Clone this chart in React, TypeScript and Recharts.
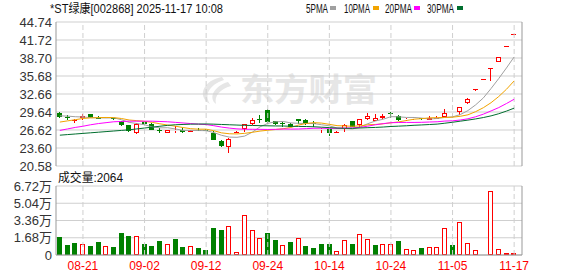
import React from 'react';
import { ComposedChart, Bar, Line, XAxis, YAxis, CartesianGrid, ReferenceLine } from 'recharts';

const dates = [
  '08-18', '08-19', '08-20', '08-21', '08-22', '08-25', '08-26', '08-27', '08-28', '08-29',
  '09-01', '09-02', '09-03', '09-04', '09-05', '09-08', '09-09', '09-10', '09-11', '09-12',
  '09-15', '09-16', '09-17', '09-18', '09-19', '09-22', '09-23', '09-24', '09-25', '09-26',
  '09-29', '09-30', '10-09', '10-10', '10-13', '10-14', '10-15', '10-16', '10-17', '10-20',
  '10-21', '10-22', '10-23', '10-24', '10-27', '10-28', '10-29', '10-30', '10-31', '11-03',
  '11-04', '11-05', '11-06', '11-07', '11-10', '11-11', '11-12', '11-13', '11-14', '11-17',
];

const opens = [
  29.5, 28.8, 28.25, 28.6, 29.25, 28.65, 28.45, 28.55, 28.1, 27.4,
  26.2, 27.95, 27.6, 26.7, 26.2, 26.5, 26.6, 26.3, 26.7, 26.6,
  26.2, 24.7, 23.85, 26.3, 26.85, 27.65, 28.5, 30.0, 28.05, 27.85,
  27.7, 28.4, 28.25, 27.75, 26.7, 26.75, 26.25, 26.8, 28.05, 27.4,
  28.4, 28.2, 28.65, 29.4, 28.95, 28.3, 28.5, 28.55, 28.3, 28.55,
  28.85, 28.8, 29.6, 31.2, 33.5, 35.18, 36.94, 38.1, 40.73, 42.77,
];
const highs = [
  29.7, 29.2, 28.4, 29.3, 29.3, 29.0, 28.65, 28.65, 28.2, 27.5,
  27.8, 28.05, 27.75, 27.0, 26.7, 27.3, 26.9, 26.65, 26.95, 26.75,
  26.5, 24.95, 25.2, 26.4, 27.7, 28.6, 29.2, 30.1, 28.2, 28.15,
  27.75, 28.45, 28.4, 28.2, 26.95, 26.8, 26.45, 27.7, 28.1, 28.45,
  29.4, 29.3, 29.3, 29.7, 29.2, 28.6, 28.75, 28.6, 28.9, 28.9,
  30.1, 29.15, 30.45, 31.95, 33.5, 35.18, 36.94, 38.79, 40.73, 42.77,
];
const lows = [
  28.6, 28.3, 27.75, 28.3, 28.6, 28.5, 28.4, 28.35, 27.3, 26.3,
  26.0, 27.5, 26.6, 26.1, 26.1, 26.05, 26.2, 26.25, 26.4, 26.45,
  24.95, 23.8, 22.8, 26.3, 26.35, 27.4, 27.8, 27.8, 27.4, 27.1,
  27.05, 27.6, 27.5, 27.2, 26.1, 25.6, 26.2, 26.35, 27.15, 27.2,
  28.35, 28.1, 28.5, 28.7, 28.2, 28.2, 28.35, 28.3, 28.25, 28.5,
  28.8, 28.7, 29.1, 30.95, 33.2, 35.18, 34.9, 38.0, 40.73, 42.77,
];
const closes = [
  28.75, 28.7, 28.35, 29.0, 28.7, 28.55, 28.6, 28.45, 27.4, 26.5,
  27.6, 27.55, 26.65, 26.6, 26.62, 26.6, 26.3, 26.6, 26.55, 26.5,
  25.0, 24.0, 25.1, 26.36, 27.55, 28.3, 28.45, 28.0, 27.7, 27.8,
  27.1, 28.1, 27.85, 27.65, 26.8, 26.2, 26.3, 27.5, 27.2, 28.4,
  29.0, 28.6, 28.95, 29.35, 28.25, 28.5, 28.55, 28.45, 28.55, 28.7,
  29.4, 29.0, 30.4, 31.9, 33.5, 35.18, 36.94, 38.79, 40.73, 42.77,
];
// volume in 万
const volumes = [
  1.75, 0.97, 1.17, 1.04, 0.88, 1.27, 0.84, 0.78, 2.14, 1.85,
  1.82, 1.07, 0.88, 1.36, 1.04, 1.56, 0.78, 0.84, 0.68, 0.49,
  2.63, 2.43, 2.79, 0.26, 3.86, 2.4, 1.62, 2.14, 1.46, 0.94,
  1.27, 1.66, 0.88, 0.68, 1.07, 1.07, 0.36, 1.46, 1.07, 2.04,
  1.56, 0.97, 1.07, 1.07, 1.36, 0.58, 0.49, 0.68, 0.78, 0.78,
  2.63, 0.97, 3.21, 1.17, 0.49, 0.1, 6.23, 0.58, 0.2, 0.2,
];
const ma5 = [
  29.0, 28.95, 28.85, 28.8, 28.7, 28.66, 28.64, 28.66, 28.34, 27.9,
  27.71, 27.5, 27.14, 26.98, 27.0, 26.8, 26.55, 26.54, 26.53, 26.51,
  26.19, 25.73, 25.43, 25.39, 25.6, 26.26, 27.15, 27.73, 28.0, 28.05,
  27.81, 27.74, 27.71, 27.7, 27.5, 27.32, 26.96, 26.89, 26.8, 27.12,
  27.68, 28.14, 28.43, 28.86, 28.83, 28.73, 28.72, 28.62, 28.46, 28.55,
  28.73, 28.82, 29.21, 29.88, 30.84, 32.0, 33.58, 35.26, 37.03, 38.88,
];
const ma10 = [
  27.95, 28.15, 28.35, 28.55, 28.65, 28.7, 28.72, 28.7, 28.55, 28.3,
  28.19, 28.07, 27.9, 27.66, 27.45, 27.26, 27.03, 26.84, 26.76, 26.76,
  26.5, 26.14, 25.99, 25.96, 26.06, 26.23, 26.44, 26.58, 26.7, 26.83,
  27.04, 27.45, 27.72, 27.85, 27.78, 27.57, 27.35, 27.3, 27.25, 27.31,
  27.5, 27.55, 27.66, 27.83, 27.98, 28.21, 28.43, 28.53, 28.66, 28.69,
  28.73, 28.77, 28.92, 29.17, 29.7, 30.36, 31.2, 32.24, 33.45, 34.86,
];
const ma20 = [
  26.55, 26.8, 27.05, 27.25, 27.5, 27.7, 27.85, 28.0, 28.05, 28.1,
  28.1, 28.1, 28.1, 28.05, 28.0, 27.9, 27.8, 27.7, 27.6, 27.53,
  27.34, 27.11, 26.94, 26.81, 26.75, 26.74, 26.73, 26.71, 26.73, 26.79,
  26.77, 26.79, 26.85, 26.91, 26.92, 26.9, 26.9, 26.94, 26.97, 27.07,
  27.27, 27.5, 27.69, 27.84, 27.88, 27.89, 27.89, 27.91, 27.96, 28.0,
  28.12, 28.16, 28.29, 28.5, 28.84, 29.28, 29.82, 30.38, 31.06, 31.78,
];
const ma30 = [
  25.75, 25.85, 25.95, 26.05, 26.15, 26.25, 26.35, 26.45, 26.55, 26.65,
  26.8, 26.95, 27.1, 27.25, 27.4, 27.5, 27.55, 27.6, 27.62, 27.63,
  27.6, 27.55, 27.5, 27.45, 27.4, 27.38, 27.35, 27.32, 27.3, 27.29,
  27.24, 27.22, 27.2, 27.16, 27.09, 27.02, 26.94, 26.91, 26.9, 26.96,
  27.01, 27.05, 27.12, 27.21, 27.27, 27.33, 27.41, 27.47, 27.54, 27.61,
  27.76, 27.92, 28.1, 28.28, 28.48, 28.71, 28.99, 29.35, 29.79, 30.29,
];

const dateTicks = ['08-21', '09-02', '09-12', '09-24', '10-14', '10-24', '11-05', '11-17'];
const priceTicks = [20.58, 23.6, 26.62, 29.64, 32.66, 35.68, 38.7, 41.72, 44.74];
const volTicks = [0, 1.68, 3.36, 5.04, 6.72];

const PRICE_MIN = 20.58;
const PRICE_MAX = 44.74;
const RED = '#ff0000';
const GREEN = '#008000';
const GRID = '#cfcfcf';
const FRAME = '#999999';

const rows = dates.map((date, i) => ({
  date,
  open: opens[i],
  high: highs[i],
  low: lows[i],
  close: closes[i],
  vol: volumes[i],
  ma5: ma5[i],
  ma10: ma10[i],
  ma20: ma20[i],
  ma30: ma30[i],
  // volume colour follows the day's change
  up: i === 0 ? closes[i] >= opens[i] : closes[i] >= closes[i - 1],
}));

function Candle(props: any) {
  const { x, y, width, height, payload } = props;
  if (!payload || x == null) return null;
  const top = Math.min(y, y + height);
  const unit = Math.abs(height) / (payload.high - PRICE_MIN);
  const py = (v: number) => top + (payload.high - v) * unit;
  const left = Math.round(x);
  const cx = left + Math.floor(width / 2) + 0.5;
  const rising = payload.close >= payload.open;
  const color = rising ? RED : GREEN;
  const yHigh = Math.round(py(payload.high));
  const yLow = Math.round(py(payload.low));
  const bt = Math.round(Math.min(py(payload.open), py(payload.close)));
  const bb = Math.round(Math.max(py(payload.open), py(payload.close)));

  if (bb - bt < 1) {
    return (
      <g>
        {yLow > yHigh && <line x1={cx} x2={cx} y1={yHigh} y2={yLow} stroke={color} />}
        <line x1={left} x2={left + width} y1={bt + 0.5} y2={bt + 0.5} stroke={color} />
      </g>
    );
  }
  if (rising) {
    return (
      <g>
        <line x1={cx} x2={cx} y1={yHigh} y2={bt} stroke={RED} />
        <line x1={cx} x2={cx} y1={bb} y2={yLow} stroke={RED} />
        <rect x={left + 0.5} y={bt + 0.5} width={width - 1} height={Math.max(0, bb - bt - 1)} fill="#fff" stroke={RED} />
      </g>
    );
  }
  return (
    <g>
      <line x1={cx} x2={cx} y1={yHigh} y2={yLow} stroke={GREEN} />
      <rect x={left} y={bt} width={width} height={bb - bt} fill={GREEN} />
    </g>
  );
}

function VolBar(props: any) {
  const { x, y, width, height, payload } = props;
  if (!payload || x == null) return null;
  const top = Math.round(Math.min(y, y + height));
  const bottom = Math.round(Math.max(y, y + height));
  const left = Math.round(x);
  if (payload.up) {
    return (
      <rect x={left + 0.5} y={top + 0.5} width={width - 1} height={Math.max(0, bottom - top - 1)} fill="#fff" stroke={RED} />
    );
  }
  return <rect x={left} y={top} width={width} height={bottom - top} fill={GREEN} />;
}

const legend = [
  { label: '5PMA', color: '#a0a0a0', x: 306, w: 22, sx: 330 },
  { label: '10PMA', color: '#f2a400', x: 344, w: 26, sx: 373 },
  { label: '20PMA', color: '#ff00ff', x: 385, w: 27, sx: 414 },
  { label: '30PMA', color: '#006e2e', x: 427, w: 27, sx: 457 },
];

const font = '"Liberation Sans", Arial, "Noto Sans CJK SC", sans-serif';

export default function App() {
  return (
    <div style={{ position: 'relative', width: 578, height: 276, background: '#fff', fontFamily: font }}>
      <style>{'body{margin:0}'}</style>

      {/* watermark + titles */}
      <svg width={578} height={276} style={{ position: 'absolute', left: 0, top: 0 }}>
        <path d="M222 77 C204 80 196 96 210 104 C204 95 209 85 224 80 Z" fill="#e6e6e6" />
        <path d="M228 82 C214 86 208 98 216 104 C214 96 220 89 231 86 Z" fill="#e6e6e6" />
        <text x={240} y={101} fontSize={32} fontWeight="bold" fill="#e6e6e6" textLength={137} lengthAdjust="spacingAndGlyphs"
          style={{ fontFamily: '"Noto Sans CJK SC", sans-serif' }}>东方财富</text>

        <text x={50} y={13} fontSize={12} fill="#111" textLength={173} lengthAdjust="spacingAndGlyphs">*ST绿康[002868] 2025-11-17 10:08</text>
        {legend.map((l) => (
          <g key={l.label}>
            <text x={l.x} y={13} fontSize={12} fill="#111" textLength={l.w} lengthAdjust="spacingAndGlyphs">{l.label}</text>
            <rect x={l.sx} y={6} width={6} height={4} fill={l.color} />
          </g>
        ))}
        <text x={58} y={182} fontSize={12} fill="#111" textLength={65} lengthAdjust="spacingAndGlyphs">成交量:2064</text>
      </svg>

      {/* price panel */}
      <div style={{ position: 'absolute', left: 0, top: 0 }}>
        <ComposedChart width={578} height={276} data={rows} margin={{ top: 22, right: 0, bottom: 110, left: 0 }}>
          <CartesianGrid vertical={false} stroke={GRID} />
          <XAxis dataKey="date" ticks={dateTicks} interval={0} height={0} tick={false} tickLine={false}
            axisLine={{ stroke: FRAME }} padding={{ left: 0, right: 4 }} />
          <XAxis xAxisId="top" orientation="top" dataKey="date" height={0} tick={false} tickLine={false}
            axisLine={{ stroke: FRAME }} padding={{ left: 0, right: 4 }} />
          <YAxis domain={[PRICE_MIN, PRICE_MAX]} ticks={priceTicks} interval={0} allowDataOverflow width={56}
            tickLine={false} tickSize={0} tickMargin={4} axisLine={{ stroke: FRAME }}
            tick={{ fill: '#333', fontSize: 13 }} tickFormatter={(v: number) => v.toFixed(2)} />
          <YAxis yAxisId="r" orientation="right" domain={[0, 1]} width={56} tick={false} tickLine={false}
            axisLine={{ stroke: FRAME }} />
          {dateTicks.map((d) => (
            <ReferenceLine key={d} x={d} stroke={GRID} strokeDasharray="5 3" />
          ))}
          <Bar dataKey={(d: any) => [PRICE_MIN, d.high]} barSize={5} shape={<Candle />} isAnimationActive={false} />
          <Line type="linear" dataKey="ma5" stroke="#a0a0a0" strokeWidth={1} dot={false} isAnimationActive={false} />
          <Line type="linear" dataKey="ma10" stroke="#f2a400" strokeWidth={1} dot={false} isAnimationActive={false} />
          <Line type="linear" dataKey="ma20" stroke="#ff00ff" strokeWidth={1} dot={false} isAnimationActive={false} />
          <Line type="linear" dataKey="ma30" stroke="#006e2e" strokeWidth={1} dot={false} isAnimationActive={false} />
        </ComposedChart>
      </div>

      {/* volume panel */}
      <div style={{ position: 'absolute', left: 0, top: 0 }}>
        <ComposedChart width={578} height={276} data={rows} margin={{ top: 186, right: 0, bottom: 0, left: 0 }}>
          <CartesianGrid vertical={false} stroke={GRID} />
          <XAxis dataKey="date" ticks={dateTicks} interval={0} height={21} tickLine={false} tickSize={0} tickMargin={6}
            axisLine={{ stroke: FRAME }} tick={{ fill: RED, fontSize: 12 }} padding={{ left: 0, right: 4 }} />
          <XAxis xAxisId="top" orientation="top" dataKey="date" height={0} tick={false} tickLine={false}
            axisLine={{ stroke: FRAME }} padding={{ left: 0, right: 4 }} />
          <YAxis domain={[0, 6.72]} ticks={volTicks} interval={0} allowDataOverflow width={56}
            tickLine={false} tickSize={0} tickMargin={4} axisLine={{ stroke: FRAME }}
            tick={{ fill: '#333', fontSize: 13 }}
            tickFormatter={(v: number) => (v === 0 ? '0' : v.toFixed(2) + '万')} />
          <YAxis yAxisId="r" orientation="right" domain={[0, 1]} width={56} tick={false} tickLine={false}
            axisLine={{ stroke: FRAME }} />
          {dateTicks.map((d) => (
            <ReferenceLine key={d} x={d} stroke={GRID} strokeDasharray="5 3" />
          ))}
          <Bar dataKey="vol" barSize={5} shape={<VolBar />} isAnimationActive={false} />
        </ComposedChart>
      </div>
    </div>
  );
}
